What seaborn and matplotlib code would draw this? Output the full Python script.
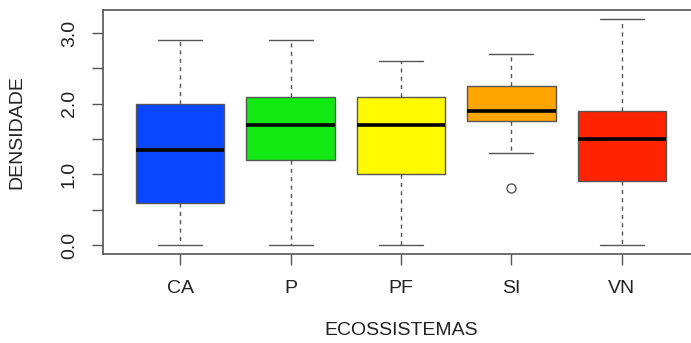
import numpy as np
import pandas as pd
import matplotlib
matplotlib.use("Agg")
import matplotlib.pyplot as plt
import seaborn as sns

# Ecosystems and their density samples
ecossistemas = ["CA", "P", "PF", "SI", "VN"]
densidade_ca = [0.0, 0.6, 1.35, 2.0, 2.9]
densidade_p = [0.0, 1.2, 1.7, 2.1, 2.9]
densidade_pf = [0.0, 1.0, 1.7, 2.1, 2.6]
densidade_si = [0.8, 1.3, 1.75, 1.8, 1.9, 2.0, 2.25, 2.5, 2.7]
densidade_vn = [0.0, 0.9, 1.5, 1.9, 3.2]
cores = ["#0a46ff", "#12e812", "#fffa00", "#ffa500", "#ff2400"]

amostras = [densidade_ca, densidade_p, densidade_pf, densidade_si, densidade_vn]
df = pd.DataFrame({
    "eco": [e for e, vals in zip(ecossistemas, amostras) for _ in vals],
    "dens": [v for vals in amostras for v in vals],
})

sns.set_style("white")
plt.rcParams["font.family"] = ["Liberation Sans", "DejaVu Sans"]

fig = plt.figure(figsize=(6.91, 3.43), dpi=100)
ax = fig.add_axes([103 / 691, 1 - 254 / 343, 596 / 691, 244 / 343])

edge = "#555555"
sns.boxplot(
    data=df, x="eco", y="dens", hue="eco", order=ecossistemas,
    hue_order=ecossistemas, palette=cores, legend=False, saturation=1,
    width=0.8, linecolor=edge, linewidth=1.0, whis=1.5,
    whiskerprops=dict(linestyle=(0, (3, 3)), color=edge),
    capprops=dict(color=edge),
    medianprops=dict(color="black", linewidth=2.6),
    flierprops=dict(marker="o", markerfacecolor="none",
                    markeredgecolor=edge, markersize=6.5,
                    markeredgewidth=1.0),
    ax=ax,
)

ax.set_xlim(-0.7, 4.7)
ax.set_ylim(-0.128, 3.328)

ax.set_yticks([0.0, 1.0, 2.0, 3.0])
ax.set_yticklabels(["0.0", "1.0", "2.0", "3.0"], rotation=90, va="center")
ax.set_yticks([0.5, 1.5, 2.5], minor=True)
ax.tick_params(axis="both", which="both", direction="out", length=8,
               width=1.0, color=edge, labelsize=14, labelcolor="#222222",
               pad=11, left=True, bottom=True)
ax.tick_params(axis="y", pad=10)

for s in ax.spines.values():
    s.set_color(edge)
    s.set_linewidth(1.2)
    s.set_visible(True)

ax.set_xlabel("ECOSSISTEMAS", fontsize=14, color="#222222")
ax.set_ylabel("DENSIDADE", fontsize=14, color="#222222")
ax.xaxis.set_label_coords(0.5, -0.279)
ax.yaxis.set_label_coords(-0.130, 0.5)
ax.grid(False)

fig.savefig("out.png", dpi=100, facecolor="white")
